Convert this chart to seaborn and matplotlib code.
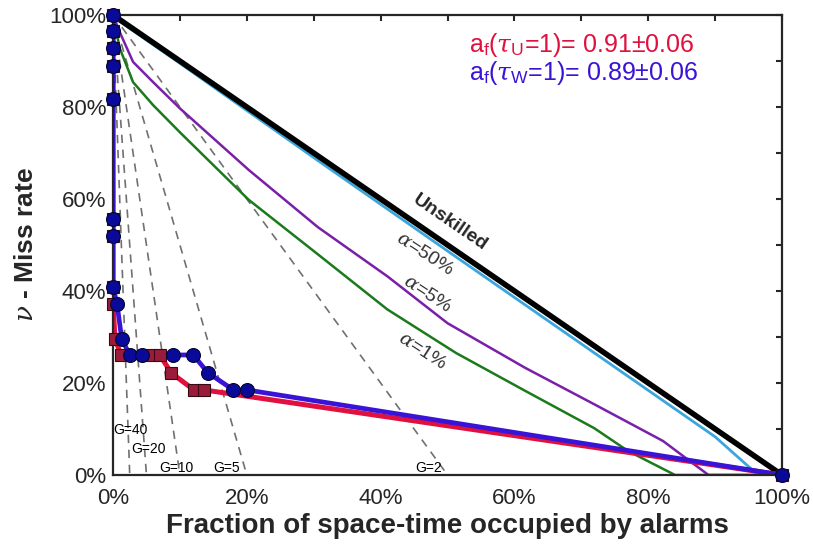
import matplotlib
matplotlib.use('Agg')
import matplotlib.pyplot as plt
import seaborn as sns

# Molchan diagram values (fractions, 0..1)
tau_blue = [0, 0, 0, 0, 0, 0, 0, 0, 0.006, 0.013, 0.025, 0.043, 0.09, 0.12, 0.142, 0.18, 0.2, 1.0]
nu_blue = [1.0, 0.965, 0.929, 0.889, 0.817, 0.557, 0.52, 0.409, 0.372, 0.296, 0.261, 0.261, 0.261, 0.261, 0.222, 0.185, 0.185, 0.0]

tau_red = [0, 0, 0, 0, 0, 0, 0, 0, 0, 0.003, 0.012, 0.055, 0.07, 0.087, 0.121, 0.136, 1.0]
nu_red = [1.0, 0.965, 0.929, 0.889, 0.817, 0.557, 0.52, 0.409, 0.372, 0.296, 0.261, 0.261, 0.261, 0.222, 0.185, 0.185, 0.0]

# confidence curves (alpha levels)
tau_a50 = [0, 0.01, 0.1, 0.3, 0.5, 0.7, 0.9, 0.964, 1.0]
nu_a50 = [1.0, 0.986, 0.895, 0.69, 0.487, 0.285, 0.083, 0.0, 0.0]
tau_a5 = [0, 0.01, 0.03, 0.06, 0.1, 0.203, 0.306, 0.41, 0.5, 0.616, 0.719, 0.822, 0.89, 1.0]
nu_a5 = [1.0, 0.963, 0.898, 0.854, 0.797, 0.663, 0.539, 0.432, 0.33, 0.233, 0.154, 0.074, 0.0, 0.0]
tau_a1 = [0, 0.01, 0.03, 0.06, 0.1, 0.203, 0.306, 0.41, 0.513, 0.616, 0.719, 0.77, 0.84, 1.0]
nu_a1 = [1.0, 0.928, 0.854, 0.804, 0.745, 0.598, 0.48, 0.36, 0.265, 0.183, 0.102, 0.052, 0.0, 0.0]

# probability gain lines: start at (0, 1), end at (1/G, 0)
gains = [2, 5, 10, 20, 40]
gain_end = [0.5, 0.2, 0.1, 0.05, 0.025]

sns.set_style('white')
plt.rcParams['font.family'] = ['Liberation Sans', 'DejaVu Sans']
plt.rcParams['mathtext.fontset'] = 'custom'
plt.rcParams['mathtext.rm'] = 'Liberation Sans'
plt.rcParams['mathtext.it'] = 'DejaVu Serif:italic'

fig = plt.figure(figsize=(8.13, 5.46), dpi=100)
ax = fig.add_axes([0.139, 0.13, 0.823, 0.8425])

dark = '#262626'

# gain lines
for g, e in zip(gains, gain_end):
    sns.lineplot(x=[0, e], y=[1, 0], ax=ax, color='#707070', lw=1.2,
                 linestyle=(0, (5, 4)), estimator=None, sort=False)

# unskilled and alpha curves
sns.lineplot(x=tau_a1, y=nu_a1, ax=ax, color='#1b7a1b', lw=1.8, estimator=None, sort=False)
sns.lineplot(x=tau_a5, y=nu_a5, ax=ax, color='#7a1fa8', lw=1.8, estimator=None, sort=False)
sns.lineplot(x=tau_a50, y=nu_a50, ax=ax, color='#3aa6dd', lw=2.0, estimator=None, sort=False)
sns.lineplot(x=[0, 1], y=[1, 0], ax=ax, color='black', lw=4.0, estimator=None, sort=False)

# the two forecast curves
sns.lineplot(x=tau_red, y=nu_red, ax=ax, color='#e0103f', lw=3.6, estimator=None, sort=False)
sns.lineplot(x=tau_blue, y=nu_blue, ax=ax, color='#3a14d6', lw=3.4, estimator=None, sort=False)
ax.plot(tau_red, nu_red, ls='none', marker='s', ms=9, mfc='#9b1b3a', mec='#3a0a14',
        mew=0.8, clip_on=False, zorder=5)
ax.plot(tau_blue, nu_blue, ls='none', marker='o', ms=10, mfc='#0a0a9a', mec='#050530',
        mew=0.8, clip_on=False, zorder=6)

# labels on the curves
ax.text(0.504, 0.548, 'Unskilled', rotation=-34.5, fontsize=14, fontweight='bold',
        ha='center', va='center', rotation_mode='anchor')
ax.text(0.466, 0.48, r'$\alpha$=50%', rotation=-33, fontsize=14, color='#333333',
        ha='center', va='center', rotation_mode='anchor')
ax.text(0.469, 0.393, r'$\alpha$=5%', rotation=-33, fontsize=14, color='#333333',
        ha='center', va='center', rotation_mode='anchor')
ax.text(0.462, 0.27, r'$\alpha$=1%', rotation=-33, fontsize=14, color='#333333',
        ha='center', va='center', rotation_mode='anchor')

g_pos = {2: (0.492, 0.015), 5: (0.19, 0.015), 10: (0.12, 0.015), 20: (0.079, 0.057), 40: (0.051, 0.098)}
for g in gains:
    px, py = g_pos[g]
    ax.text(px, py, 'G=%d' % g, fontsize=10, ha='right', va='center', color='black')

ax.text(0.532, 0.935, r'a$_\mathrm{f}$($\tau_\mathrm{U}$=1)= 0.91±0.06', fontsize=18,
        color='#e0103f', ha='left', va='center')
ax.text(0.532, 0.874, r'a$_\mathrm{f}$($\tau_\mathrm{W}$=1)= 0.89±0.06', fontsize=18,
        color='#3a14d6', ha='left', va='center')

ax.set_xlim(0, 1)
ax.set_ylim(0, 1)
ticks = [i / 10 for i in range(11)]
tick_labels = ['%d%%' % (i * 10) if i % 2 == 0 else '' for i in range(11)]
ax.set_xticks(ticks)
ax.set_xticklabels(tick_labels)
ax.set_yticks(ticks)
ax.set_yticklabels(tick_labels)
ax.tick_params(direction='in', length=4, width=1.5, top=True, right=True,
               labelsize=16, colors=dark, pad=5)
ax.tick_params(axis='x', pad=9)
for s in ax.spines.values():
    s.set_linewidth(1.6)
    s.set_color(dark)

ax.set_xlabel('Fraction of space-time occupied by alarms', fontsize=20,
              fontweight='bold', color=dark, labelpad=3)
ax.set_ylabel(r'$\nu$ - Miss rate', fontsize=19, fontweight='bold', color=dark, labelpad=8)

fig.savefig('out.png', dpi=100)
